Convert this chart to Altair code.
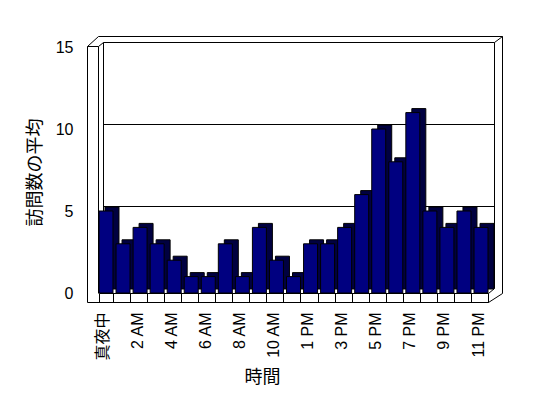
import altair as alt
import pandas as pd

hours = ["真夜中", "1 AM", "2 AM", "3 AM", "4 AM", "5 AM", "6 AM", "7 AM", "8 AM",
         "9 AM", "10 AM", "11 AM", "1 PM", "2 PM", "3 PM", "4 PM", "5 PM", "6 PM",
         "7 PM", "8 PM", "9 PM", "10 PM", "11 PM"]
visits = [5, 3, 4, 3, 2, 1, 1, 3, 1, 4, 2, 1, 3, 3, 4, 6, 10, 8, 11, 5, 4, 5, 4]
shown_labels = hours[::2]
y_ticks = [0, 5, 10, 15]
grid_values = [5, 10, 15]

W, H = 416, 257
df = pd.DataFrame({"hour": hours, "visits": visits})
gdf = pd.DataFrame({"v": grid_values})
one = pd.DataFrame({"a": [0]})

LATIN = "Liberation Sans, Noto Sans CJK JP"
CJK = "Noto Sans CJK JP"

xscale = alt.Scale(domain=hours, range=[12, 401], paddingInner=0.18, paddingOuter=0)
yscale = alt.Scale(domain=[0, 15], range=[H, 11])

label_list = "[" + ",".join("'" + s + "'" for s in shown_labels) + "]"
label_expr = "indexof(" + label_list + ", datum.value) >= 0 ? datum.label : ''"

xaxis = alt.Axis(labelExpr=label_expr, labelAngle=270, labelOverlap=False,
                 tickBand="extent", tickSize=9, tickColor="black",
                 domainColor="black", labelPadding=10, labelFontSize=16,
                 labelFont=LATIN, labelColor="black", labelOffset=-3,
                 title="時間", titleFont=CJK, titleFontSize=18,
                 titleFontWeight="normal", titleColor="black",
                 titleX=175, titleY=84, titleAlign="center",
                 titleBaseline="middle")
yaxis = alt.Axis(values=y_ticks, ticks=False, domain=False, grid=False,
                 labelFontSize=16, labelFont=LATIN, labelColor="black",
                 labelPadding=14, title="訪問数の平均", titleFont=CJK,
                 titleFontSize=18, titleFontWeight="normal",
                 titleColor="black", titleX=-52, titleY=136,
                 titleAngle=270, titleAlign="center",
                 titleBaseline="middle")


def seg(x1, y1, x2, y2):
    return alt.Chart(one).mark_rule(color="black", strokeWidth=1).encode(
        x=alt.value(x1 + 0.5), y=alt.value(y1 + 0.5),
        x2=alt.value(x2 + 0.5), y2=alt.value(y2 + 0.5))


grid = alt.Chart(gdf).mark_rule(color="black", strokeWidth=1, yOffset=-4.5).encode(
    y=alt.Y("v:Q", scale=yscale, axis=yaxis),
    x=alt.value(16.5), x2=alt.value(407.5))

back = [seg(16, 6, 16, 252), seg(407, 6, 407, 252), seg(407, 6, 415, 0),
        seg(11, 0, 415, 0), seg(415, 0, 415, 257)]

shadow = alt.Chart(df).mark_bar(color="#000040", stroke="black", strokeWidth=1,
                                xOffset=6, yOffset=-4, y2Offset=-4).encode(
    x=alt.X("hour:N", scale=xscale, sort=hours, axis=xaxis),
    y=alt.Y("visits:Q", scale=yscale, axis=yaxis))

bars = alt.Chart(df).mark_bar(color="#000080", stroke="black", strokeWidth=1).encode(
    x=alt.X("hour:N", scale=xscale, sort=hours, axis=xaxis),
    y=alt.Y("visits:Q", scale=yscale, axis=yaxis))

front = [seg(0, 10, 0, 266), seg(11, 10, 11, 257), seg(0, 10, 11, 10),
         seg(0, 10, 11, 0), seg(11, 10, 16, 6), seg(401, 266, 415, 257),
         seg(0, 266, 401, 266), seg(401, 257, 401, 266), seg(401, 257, 407, 252)]

chart = alt.layer(grid, *back, shadow, bars, *front).properties(
    width=W, height=H,
    padding={"left": 79, "top": 28, "right": 37, "bottom": 97},
    autosize=alt.AutoSizeParams(type="none"),
    background="white",
).configure_view(stroke=None)

chart.save("out.html", embed_options={"renderer": "svg", "actions": False})
